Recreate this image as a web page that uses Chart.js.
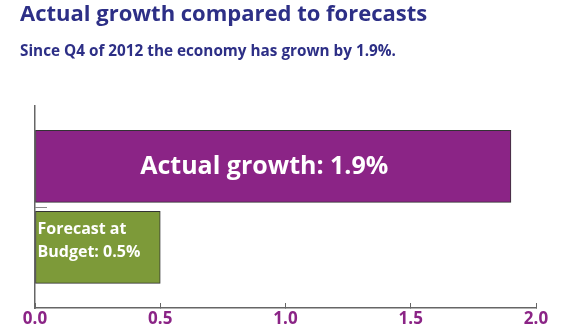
<!DOCTYPE html>
<html>
<head>
<meta charset="utf-8">
<script src="https://cdn.jsdelivr.net/npm/chart.js@4"></script>
<style>
  body { margin: 0; background: #fff; }
</style>
</head>
<body>
<canvas id="myChart" width="580" height="326"></canvas>
<script>
// bar order is bottom to top on the linear index axis
const categories = ['Forecast at Budget', 'Actual growth'];
const growth = [0.5, 1.9];
const barLabels = [['Forecast at', 'Budget: ' + growth[0] + '%'], ['Actual growth: ' + growth[1] + '%']];
const xTicks = [0, 0.5, 1.0, 1.5, 2.0];

const purple = '#8b2486';
const green = '#7d9a39';
const navy = '#2d2f86';
const font = 'Open Sans';

// white text inside each bar
const barText = {
  id: 'barText',
  afterDatasetsDraw(chart) {
    const ctx = chart.ctx;
    const meta = chart.getDatasetMeta(0);
    ctx.save();
    ctx.fillStyle = '#fff';
    ctx.textBaseline = 'middle';
    meta.data.forEach((bar, i) => {
      const lines = barLabels[i];
      if (lines.length > 1) {
        ctx.font = 'bold 16px "' + font + '"';
        ctx.textAlign = 'left';
        const lh = 23;
        const top = bar.y - 6 - (lines.length - 1) * lh / 2;
        lines.forEach((t, k) => ctx.fillText(t, bar.base + 2, top + k * lh));
      } else {
        ctx.font = 'bold 25px "' + font + '"';
        ctx.textAlign = 'center';
        ctx.fillText(lines[0], (bar.base + bar.x) / 2 - 9, bar.y);
      }
    });
    ctx.restore();
  }
};

// short mark on the value axis between the two bars
const divider = {
  id: 'divider',
  afterDraw(chart) {
    const ctx = chart.ctx;
    const y = Math.round(chart.scales.y.getPixelForValue(0.5)) + 0.5;
    const left = chart.chartArea.left;
    ctx.save();
    ctx.strokeStyle = '#888';
    ctx.lineWidth = 1;
    ctx.beginPath();
    ctx.moveTo(left, y);
    ctx.lineTo(left + 12, y);
    ctx.stroke();
    ctx.restore();
  }
};

new Chart(document.getElementById('myChart'), {
  type: 'bar',
  data: {
    datasets: [{
      label: 'Growth since Q4 2012',
      data: growth.map((v, i) => ({ x: v, y: i })),
      backgroundColor: [green, purple],
      borderColor: '#333',
      borderWidth: 1,
      borderSkipped: false,
      barThickness: 72
    }]
  },
  options: {
    indexAxis: 'y',
    responsive: false,
    devicePixelRatio: 1,
    animation: false,
    layout: { padding: { left: 20, right: 44, top: 0, bottom: 0 } },
    plugins: {
      legend: { display: false },
      tooltip: { enabled: false },
      title: {
        display: true,
        text: 'Actual growth compared to forecasts',
        align: 'start',
        color: navy,
        font: { family: font, size: 22, weight: 'bold' },
        padding: { top: 2, bottom: 4 }
      },
      subtitle: {
        display: true,
        text: 'Since Q4 of 2012 the economy has grown by 1.9%.',
        align: 'start',
        color: navy,
        font: { family: font, size: 15.3, weight: 'bold' },
        padding: { top: 10, bottom: 45 }
      }
    },
    scales: {
      x: {
        type: 'linear',
        min: 0,
        max: 2,
        afterBuildTicks: s => { s.ticks = xTicks.map(v => ({ value: v })); },
        afterFit: s => { s.height = 18; },
        ticks: {
          color: purple,
          padding: 6,
          font: { family: font, size: 17, weight: 'bold' },
          callback: v => v.toFixed(1)
        },
        grid: { drawOnChartArea: false, tickLength: -5, color: '#666' },
        border: { color: '#666', width: 1.5 }
      },
      y: {
        type: 'linear',
        offset: false,
        min: -0.75,
        max: 1.75,
        afterFit: s => { s.width = 15; },
        ticks: { display: false },
        grid: { drawOnChartArea: false, drawTicks: false },
        border: { color: '#666', width: 1.5 }
      }
    }
  },
  plugins: [barText, divider]
});
</script>
</body>
</html>
